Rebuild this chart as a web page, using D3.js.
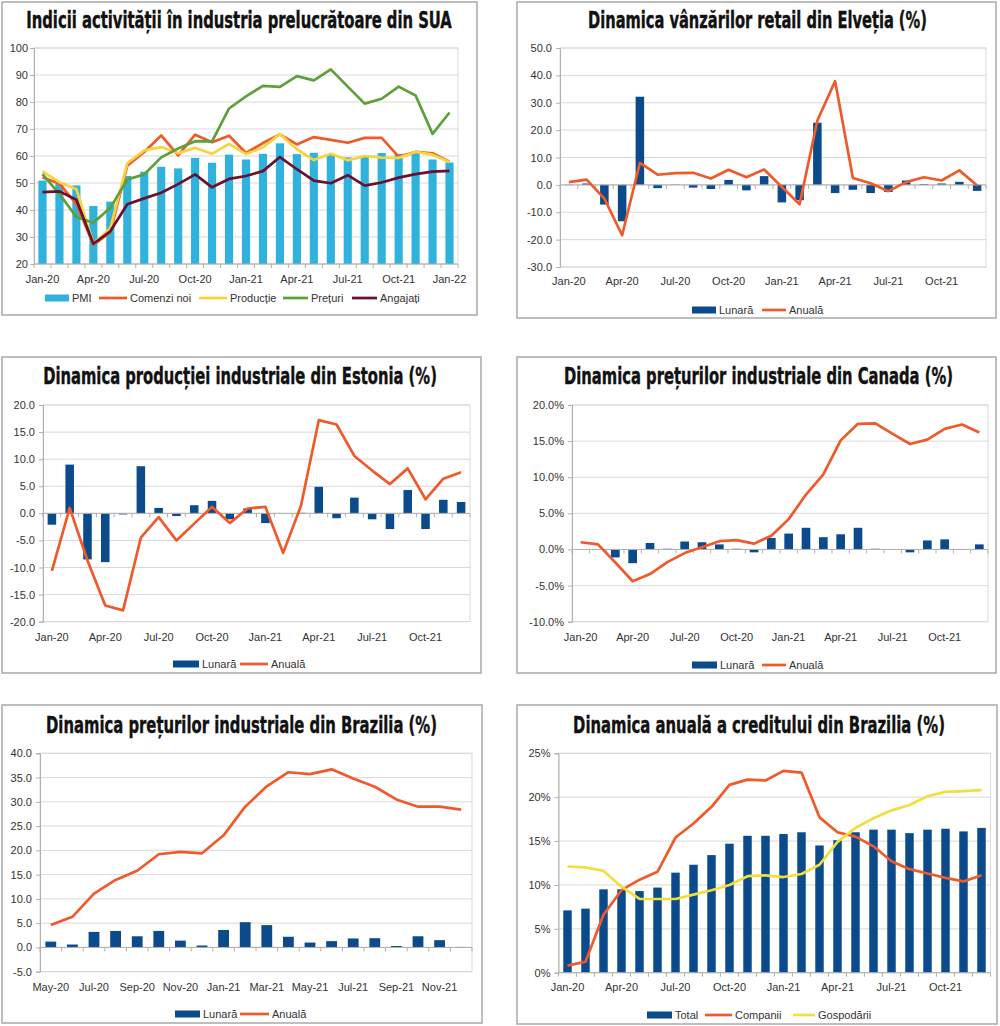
<!DOCTYPE html>
<html>
<head>
<meta charset="utf-8">
<script src="https://cdn.jsdelivr.net/npm/d3@7"></script>
<style>
    body { margin: 0; background: #fff; }
    svg { display: block; }
</style>
</head>
<body>
<svg id="chart" width="1000" height="1026"></svg>
<script>
// categories
const months = ['Jan-20', 'Feb-20', 'Mar-20', 'Apr-20', 'May-20', 'Jun-20', 'Jul-20', 'Aug-20', 'Sep-20', 'Oct-20', 'Nov-20', 'Dec-20',
    'Jan-21', 'Feb-21', 'Mar-21', 'Apr-21', 'May-21', 'Jun-21', 'Jul-21', 'Aug-21', 'Sep-21', 'Oct-21', 'Nov-21', 'Dec-21'];
const usaMonths = months.concat(['Jan-22']);
const brMonths = months.slice(4);
const quarterTicks = ['Jan-20', 'Apr-20', 'Jul-20', 'Oct-20', 'Jan-21', 'Apr-21', 'Jul-21', 'Oct-21'];
const usaTicks = quarterTicks.concat(['Jan-22']);
const brTicks = ['May-20', 'Jul-20', 'Sep-20', 'Nov-20', 'Jan-21', 'Mar-21', 'May-21', 'Jul-21', 'Sep-21', 'Nov-21'];

// SUA
const usaPMI = [50.9, 50.1, 49.1, 41.5, 43.1, 52.6, 54.2, 56.0, 55.4, 59.3, 57.5, 60.5, 58.7, 60.8, 64.7, 60.7, 61.2, 60.6, 59.5, 59.9, 61.1, 60.8, 61.1, 58.7, 57.6];
const usaNewOrders = [52.0, 49.8, 42.2, 27.1, 31.8, 56.4, 61.5, 67.6, 60.2, 67.9, 65.1, 67.5, 61.1, 64.8, 68.0, 64.3, 67.0, 66.0, 64.9, 66.7, 66.7, 59.8, 61.5, 61.0, 57.9];
const usaProduction = [54.3, 50.3, 47.7, 27.5, 33.2, 57.3, 62.1, 63.3, 61.0, 63.0, 60.8, 64.5, 60.7, 63.2, 68.1, 62.5, 58.5, 60.8, 58.4, 60.0, 59.4, 59.3, 61.5, 60.5, 57.8];
const usaPrices = [53.3, 45.9, 37.4, 35.3, 40.8, 51.3, 53.2, 59.5, 62.8, 65.5, 65.4, 77.6, 82.1, 86.0, 85.6, 89.6, 88.0, 92.1, 85.7, 79.4, 81.2, 85.7, 82.4, 68.2, 76.1];
const usaEmployment = [46.6, 46.9, 43.8, 27.5, 32.1, 42.1, 44.3, 46.4, 49.6, 53.2, 48.4, 51.5, 52.6, 54.4, 59.6, 55.1, 50.9, 49.9, 52.9, 49.0, 50.2, 52.0, 53.3, 54.2, 54.5];

// Elvetia
const chMonthly = [-0.1, 0.5, -7.2, -13.3, 32.2, -1.2, 0.1, -1.0, -1.5, 1.8, -2.0, 3.2, -6.4, -5.6, 22.7, -3.0, -1.8, -3.0, -2.6, 1.6, 0.3, 0.5, 1.1, -2.2];
const chAnnual = [1.0, 1.9, -5.0, -18.4, 8.0, 3.7, 4.3, 4.4, 2.3, 5.5, 2.8, 5.6, -0.8, -7.1, 23.5, 37.9, 2.5, 0.6, -2.3, 1.0, 2.8, 1.6, 5.3, -0.2];

// Estonia
const estMonthly = [-2.1, 9.0, -8.5, -9.0, -0.2, 8.7, 1.0, -0.5, 1.5, 2.3, -1.1, 0.9, -1.8, 0.0, 0.1, 4.9, -0.9, 2.9, -1.1, -2.9, 4.3, -2.9, 2.5, 2.1];
const estAnnual = [-10.6, 1.0, -8.7, -17.0, -17.9, -4.5, -0.7, -5.0, -1.9, 1.2, -1.8, 0.9, 1.2, -7.3, 1.4, 17.2, 16.4, 10.6, 7.9, 5.4, 8.3, 2.6, 6.4, 7.6];

// Canada
const caMonthly = [0.0, 0.0, -1.1, -1.9, 0.9, 0.1, 1.1, 1.0, 0.7, 0.1, -0.4, 1.6, 2.2, 3.0, 1.7, 2.1, 3.0, 0.1, 0.0, -0.4, 1.25, 1.4, 0.05, 0.7];
const caAnnual = [1.0, 0.7, -1.8, -4.4, -3.4, -1.75, -0.5, 0.3, 1.15, 1.3, 0.8, 1.9, 4.2, 7.6, 10.4, 15.1, 17.4, 17.45, 16.0, 14.6, 15.2, 16.7, 17.3, 16.2];

// Brazilia - preturi
const brMonthly = [1.2, 0.6, 3.2, 3.4, 2.3, 3.4, 1.4, 0.4, 3.6, 5.2, 4.6, 2.2, 1.0, 1.3, 1.85, 1.9, 0.3, 2.3, 1.5, 0.1];
const brAnnual = [4.6, 6.3, 11.1, 13.9, 15.8, 19.2, 19.7, 19.4, 23.1, 29.0, 33.2, 36.1, 35.7, 36.7, 34.8, 33.1, 30.5, 29.0, 29.0, 28.4];

// Brazilia - credit
const crTotal = [7.1, 7.3, 9.5, 9.5, 9.3, 9.7, 11.4, 12.3, 13.4, 14.7, 15.6, 15.6, 15.8, 16.0, 14.5, 15.1, 16.0, 16.3, 16.3, 15.9, 16.3, 16.4, 16.1, 16.5];
const crCompanies = [0.8, 1.25, 6.6, 9.4, 10.6, 11.5, 15.4, 17.0, 18.9, 21.4, 22.0, 21.9, 23.0, 22.8, 17.7, 16.0, 15.5, 14.4, 12.7, 11.8, 11.3, 10.8, 10.4, 11.1];
const crHouseholds = [12.1, 12.0, 11.6, 9.8, 8.4, 8.4, 8.4, 8.9, 9.4, 10.0, 11.0, 11.1, 10.9, 11.25, 12.3, 14.9, 16.5, 17.6, 18.5, 19.1, 20.1, 20.6, 20.7, 20.8];

const TITLE_FONT = "'Liberation Sans Narrow', 'DejaVu Sans Condensed', sans-serif";
const TEXT_FONT = "'Liberation Sans', Arial, sans-serif";
const NAVY = '#0b4a8b';
const ORANGE = '#f0592a';

const fmt1 = (v) => d3.format('.1f')(v).replace('\u2212', '-');

const svg = d3.select('#chart');

function drawPanel(p) {
    const g = svg.append('g');

    g.append('rect')
        .attr('x', p.box[0])
        .attr('y', p.box[1])
        .attr('width', p.box[2] - p.box[0])
        .attr('height', p.box[3] - p.box[1])
        .attr('fill', '#fff')
        .attr('stroke', '#a9a9a9')
        .attr('stroke-width', 1.5);

    // title: condensed heavy look -> squeeze horizontally to the picture's width
    const tg = g.append('g');
    const title = tg.append('text')
        .attr('x', 0)
        .attr('y', 0)
        .attr('text-anchor', 'middle')
        .attr('font-family', TITLE_FONT)
        .attr('font-weight', 'bold')
        .attr('font-size', 22.5)
        .attr('fill', '#111')
        .attr('stroke', '#111')
        .attr('stroke-width', 0.4)
        .text(p.title);
    const sx = (p.tx1 - p.tx0) / title.node().getComputedTextLength();
    tg.attr('transform', `translate(${(p.tx0 + p.tx1) / 2},${p.ty}) scale(${sx},1)`);

    const x = d3.scaleBand().domain(p.cats).range([p.x0, p.x1]);
    const y = d3.scaleLinear().domain(p.domain).range([p.y1, p.y0]);
    const bw = x.bandwidth();
    const ticks = d3.range(p.domain[0], p.domain[1] + p.step / 2, p.step);

    // grid
    g.selectAll('.grid')
        .data(ticks)
        .enter()
        .append('line')
        .attr('x1', p.x0)
        .attr('x2', p.x1)
        .attr('y1', (d) => y(d))
        .attr('y2', (d) => y(d))
        .attr('stroke', '#d9d9d9')
        .attr('stroke-width', 1);

    g.append('rect')
        .attr('x', p.x0)
        .attr('y', y(p.domain[1]))
        .attr('width', p.x1 - p.x0)
        .attr('height', y(p.domain[0]) - y(p.domain[1]))
        .attr('fill', 'none')
        .attr('stroke', '#d9d9d9');

    const yAxis = g.append('g')
        .attr('transform', `translate(${p.x0},0)`)
        .call(d3.axisLeft(y).tickValues(ticks).tickFormat(p.fmt).tickSize(4).tickPadding(p.pad));
    yAxis.select('.domain').attr('stroke', '#b0b0b0');
    yAxis.selectAll('.tick line').attr('stroke', '#b0b0b0');
    yAxis.selectAll('text')
        .attr('font-family', TEXT_FONT)
        .attr('font-size', 11)
        .attr('fill', '#333');

    const base = y(Math.max(p.domain[0], 0));

    // bars
    const bars = p.cats.map((c, i) => ({ c: c, v: p.bars.values[i] }));
    g.selectAll('.bar')
        .data(bars)
        .enter()
        .append('rect')
        .attr('x', (d) => x(d.c) + bw * (1 - p.barRatio) / 2)
        .attr('width', bw * p.barRatio)
        .attr('y', (d) => Math.min(y(d.v), base))
        .attr('height', (d) => Math.abs(y(d.v) - base))
        .attr('fill', p.bars.color);

    // category axis
    g.append('line')
        .attr('x1', p.x0)
        .attr('x2', p.x1)
        .attr('y1', base)
        .attr('y2', base)
        .attr('stroke', '#b0b0b0');
    g.selectAll('.xtick')
        .data(p.cats.concat(['end']))
        .enter()
        .append('line')
        .attr('x1', (d) => (d === 'end' ? p.x1 : x(d)))
        .attr('x2', (d) => (d === 'end' ? p.x1 : x(d)))
        .attr('y1', base)
        .attr('y2', base + 4)
        .attr('stroke', '#b0b0b0');

    g.selectAll('.xlabel')
        .data(p.labels)
        .enter()
        .append('text')
        .attr('x', (d) => x(d) + bw / 2)
        .attr('y', p.labelY)
        .attr('text-anchor', 'middle')
        .attr('font-family', TEXT_FONT)
        .attr('font-size', 11)
        .attr('fill', '#333')
        .text((d) => d);

    // lines
    const line = d3.line()
        .x((d) => x(d[0]) + bw / 2)
        .y((d) => y(d[1]));
    p.lines.forEach((s) => {
        g.append('path')
            .datum(p.cats.map((c, i) => [c, s.values[i]]))
            .attr('d', line)
            .attr('fill', 'none')
            .attr('stroke', s.color)
            .attr('stroke-width', 2.7)
            .attr('stroke-linejoin', 'round');
    });

    // legend
    p.legend.forEach((l) => {
        if (l.type === 'bar') {
            g.append('rect')
                .attr('x', l.x)
                .attr('y', p.legendY - 3.5)
                .attr('width', l.w)
                .attr('height', 7)
                .attr('fill', l.color);
        } else {
            g.append('line')
                .attr('x1', l.x)
                .attr('x2', l.x + l.w)
                .attr('y1', p.legendY)
                .attr('y2', p.legendY)
                .attr('stroke', l.color)
                .attr('stroke-width', 2.7);
        }
        g.append('text')
            .attr('x', l.x + l.w + 3)
            .attr('y', p.legendY + 4)
            .attr('font-family', TEXT_FONT)
            .attr('font-size', 11)
            .attr('fill', '#333')
            .text(l.label);
    });
}

const panels = [
    {
        box: [2, 2, 477, 315], x0: 34, x1: 458, y0: 48, y1: 264,
        title: 'Indicii activității în industria prelucrătoare din SUA', tx0: 26, tx1: 452, ty: 28,
        cats: usaMonths, labels: usaTicks, labelY: 283, domain: [20, 100], step: 10, fmt: d3.format('d'), pad: 2,
        bars: { values: usaPMI, color: '#2fb2dc' }, barRatio: 0.48,
        lines: [
            { values: usaNewOrders, color: '#ee5a28' },
            { values: usaProduction, color: '#f8d43a' },
            { values: usaPrices, color: '#5d9f38' },
            { values: usaEmployment, color: '#6a1030' },
        ],
        legendY: 298,
        legend: [
            { type: 'bar', label: 'PMI', color: '#2fb2dc', x: 45, w: 24 },
            { type: 'line', label: 'Comenzi noi', color: '#ee5a28', x: 99, w: 28 },
            { type: 'line', label: 'Producție', color: '#f8d43a', x: 199, w: 28 },
            { type: 'line', label: 'Prețuri', color: '#5d9f38', x: 283, w: 25 },
            { type: 'line', label: 'Angajați', color: '#6a1030', x: 352, w: 25 },
        ],
    },
    {
        box: [517, 2, 996, 318], x0: 560, x1: 986, y0: 48, y1: 267,
        title: 'Dinamica vânzărilor retail din Elveția (%)', tx0: 588, tx1: 927, ty: 28,
        cats: months, labels: quarterTicks, labelY: 285, domain: [-30, 50], step: 10, fmt: fmt1, pad: 4,
        bars: { values: chMonthly, color: NAVY }, barRatio: 0.48,
        lines: [{ values: chAnnual, color: ORANGE }],
        legendY: 310,
        legend: [
            { type: 'bar', label: 'Lunară', color: NAVY, x: 692, w: 24 },
            { type: 'line', label: 'Anuală', color: ORANGE, x: 762, w: 24 },
        ],
    },
    {
        box: [2, 357, 481, 673], x0: 43, x1: 470, y0: 405, y1: 621.7,
        title: 'Dinamica producției industriale din Estonia (%)', tx0: 43, tx1: 437, ty: 384,
        cats: months, labels: quarterTicks, labelY: 641, domain: [-20, 20], step: 5, fmt: fmt1, pad: 4,
        bars: { values: estMonthly, color: NAVY }, barRatio: 0.48,
        lines: [{ values: estAnnual, color: ORANGE }],
        legendY: 664,
        legend: [
            { type: 'bar', label: 'Lunară', color: NAVY, x: 173, w: 26 },
            { type: 'line', label: 'Anuală', color: ORANGE, x: 240, w: 28 },
        ],
    },
    {
        box: [517, 357, 996, 673], x0: 572, x1: 988, y0: 405, y1: 621.7,
        title: 'Dinamica prețurilor industriale din Canada (%)', tx0: 564, tx1: 953, ty: 384,
        cats: months, labels: quarterTicks, labelY: 641, domain: [-10, 20], step: 5, fmt: (v) => fmt1(v) + '%', pad: 4,
        bars: { values: caMonthly, color: NAVY }, barRatio: 0.5,
        lines: [{ values: caAnnual, color: ORANGE }],
        legendY: 665,
        legend: [
            { type: 'bar', label: 'Lunară', color: NAVY, x: 692, w: 25 },
            { type: 'line', label: 'Anuală', color: ORANGE, x: 762, w: 24 },
        ],
    },
    {
        box: [2, 705, 482, 1023], x0: 40, x1: 472, y0: 753.3, y1: 971.7,
        title: 'Dinamica prețurilor industriale din Brazilia (%)', tx0: 46, tx1: 437, ty: 733,
        cats: brMonths, labels: brTicks, labelY: 991, domain: [-5, 40], step: 5, fmt: fmt1, pad: 4,
        bars: { values: brMonthly, color: NAVY }, barRatio: 0.5,
        lines: [{ values: brAnnual, color: ORANGE }],
        legendY: 1014,
        legend: [
            { type: 'bar', label: 'Lunară', color: NAVY, x: 175, w: 25 },
            { type: 'line', label: 'Anuală', color: ORANGE, x: 240, w: 29 },
        ],
    },
    {
        box: [517, 705, 997, 1024], x0: 558.5, x1: 990.5, y0: 753.3, y1: 972.7,
        title: 'Dinamica anuală a creditului din Brazilia (%)', tx0: 573, tx1: 945, ty: 733,
        cats: months, labels: quarterTicks, labelY: 991, domain: [0, 25], step: 5, fmt: (v) => v + '%', pad: 4,
        bars: { values: crTotal, color: NAVY }, barRatio: 0.47,
        lines: [
            { values: crCompanies, color: ORANGE },
            { values: crHouseholds, color: '#f0df3c' },
        ],
        legendY: 1015,
        legend: [
            { type: 'bar', label: 'Total', color: NAVY, x: 647, w: 25 },
            { type: 'line', label: 'Companii', color: ORANGE, x: 705, w: 27 },
            { type: 'line', label: 'Gospodării', color: '#f0df3c', x: 793, w: 22 },
        ],
    },
];

panels.forEach(drawPanel);
</script>
</body>
</html>
